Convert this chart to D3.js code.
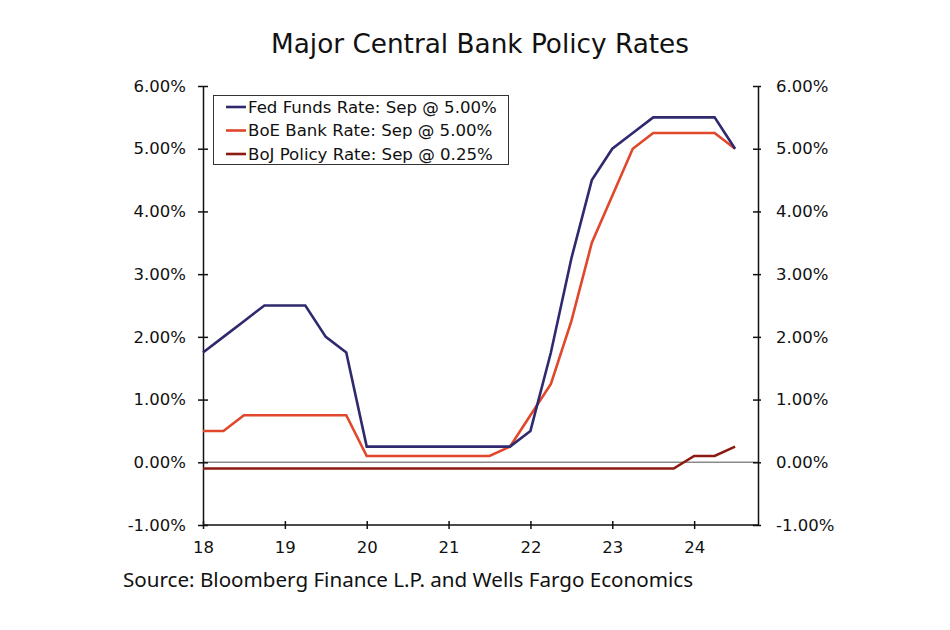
<!DOCTYPE html>
<html><head><meta charset="utf-8">
<script src="https://cdn.jsdelivr.net/npm/d3@7"></script>
<style>body{margin:0;background:#fff;} svg{display:block;}</style>
</head><body>
<svg id="c" width="950" height="630"></svg>
<script>
const quarters = ["2018Q1","2018Q2","2018Q3","2018Q4","2019Q1","2019Q2","2019Q3","2019Q4",
  "2020Q1","2020Q2","2020Q3","2020Q4","2021Q1","2021Q2","2021Q3","2021Q4",
  "2022Q1","2022Q2","2022Q3","2022Q4","2023Q1","2023Q2","2023Q3","2023Q4",
  "2024Q1","2024Q2","2024Q3"];
const fedFunds = [1.75,2.00,2.25,2.50,2.50,2.50,2.00,1.75,
  0.25,0.25,0.25,0.25,0.25,0.25,0.25,0.25,
  0.50,1.75,3.25,4.50,5.00,5.25,5.50,5.50,
  5.50,5.50,5.00];
const boeRate = [0.50,0.50,0.75,0.75,0.75,0.75,0.75,0.75,
  0.10,0.10,0.10,0.10,0.10,0.10,0.10,0.25,
  0.75,1.25,2.25,3.50,4.25,5.00,5.25,5.25,
  5.25,5.25,5.00];
const bojRate = [-0.10,-0.10,-0.10,-0.10,-0.10,-0.10,-0.10,-0.10,
  -0.10,-0.10,-0.10,-0.10,-0.10,-0.10,-0.10,-0.10,
  -0.10,-0.10,-0.10,-0.10,-0.10,-0.10,-0.10,-0.10,
  0.10,0.10,0.25];
const seriesNames = ["Fed Funds Rate: Sep @ 5.00%","BoE Bank Rate: Sep @ 5.00%","BoJ Policy Rate: Sep @ 0.25%"];
const seriesColors = ["#2f2a6e","#e0472b","#8c1a10"];
const yTicks = [-1,0,1,2,3,4,5,6];
const xTicks = [2018,2019,2020,2021,2022,2023,2024];
const xTickLabels = ["18","19","20","21","22","23","24"];

const svg = d3.select("#c");
const L = 203, R = 758, T = 86, B = 525;
const x = d3.scaleLinear().domain([2018, 2024.78]).range([L, R]);
const y = d3.scaleLinear().domain([-1, 6]).range([B, T]);
const toYear = q => +q.slice(0,4) + (+q.slice(5) - 1) * 0.25;

const font = "DejaVu Sans, Verdana, sans-serif";

// title
svg.append("text").attr("x", 480).attr("y", 53).attr("text-anchor","middle")
  .attr("font-family", font).attr("font-size", 26.3).attr("fill","#111")
  .text("Major Central Bank Policy Rates");

// zero line
svg.append("line").attr("x1", L).attr("x2", R).attr("y1", y(0)).attr("y2", y(0))
  .attr("stroke","#8a8a8a").attr("stroke-width",1.5);

// axes
const fmt = d => d.toFixed(2) + "%";
const leftAxis = d3.axisLeft(y).tickValues(yTicks).tickFormat(fmt).tickSizeInner(5).tickSizeOuter(0).tickPadding(12);
const rightAxis = d3.axisRight(y).tickValues(yTicks).tickFormat(fmt).tickSizeInner(5).tickSizeOuter(0).tickPadding(13);
const bottomAxis = d3.axisBottom(x).tickValues(xTicks).tickFormat((d,i)=>xTickLabels[i]).tickSizeInner(4).tickSizeOuter(0).tickPadding(12);

function styleAxis(g){
  g.select(".domain").attr("stroke","#111").attr("stroke-width",1.5);
  g.selectAll(".tick line").attr("stroke","#111").attr("stroke-width",1.5);
  g.selectAll(".tick text").attr("font-family", font).attr("font-size", 16.5).attr("fill","#111");
}
const gl = svg.append("g").attr("transform",`translate(${L},0)`).call(leftAxis).call(styleAxis);
gl.selectAll(".tick line").attr("x1",5);
const gr = svg.append("g").attr("transform",`translate(${R},0)`).call(rightAxis).call(styleAxis);
gr.selectAll(".tick line").attr("x1",-5).attr("x2",3);
const gb = svg.append("g").attr("transform",`translate(0,${B})`).call(bottomAxis).call(styleAxis);
gb.selectAll(".tick line").attr("y1",-4);
gb.select(".domain").attr("d", `M${L},0H${R}`);

// lines
const data = [fedFunds, boeRate, bojRate];
const line = d3.line().x((d,i)=>x(toYear(quarters[i]))).y(d=>y(d));
[2,1,0].forEach(k=>{
  svg.append("path").datum(data[k]).attr("d", line).attr("fill","none")
    .attr("stroke", seriesColors[k]).attr("stroke-width",2.6).attr("stroke-linejoin","miter");
});

// legend
const lg = svg.append("g");
lg.append("rect").attr("x",213.5).attr("y",95.5).attr("width",295).attr("height",69)
  .attr("fill","#fff").attr("stroke","#333").attr("stroke-width",1);
seriesNames.forEach((n,i)=>{
  const yy = 107 + i*23.5;
  lg.append("line").attr("x1",226).attr("x2",246).attr("y1",yy).attr("y2",yy)
    .attr("stroke",seriesColors[i]).attr("stroke-width",2.6);
  lg.append("text").attr("x",248).attr("y",yy).attr("dy","0.36em")
    .attr("font-family",font).attr("font-size",16.6).attr("fill","#111").text(n);
});

// source
svg.append("text").attr("x",123).attr("y",587).attr("font-family","Noto Sans, sans-serif")
  .attr("font-size",20.6).attr("fill","#111")
  .text("Source: Bloomberg Finance L.P. and Wells Fargo Economics");
</script>
</body></html>
